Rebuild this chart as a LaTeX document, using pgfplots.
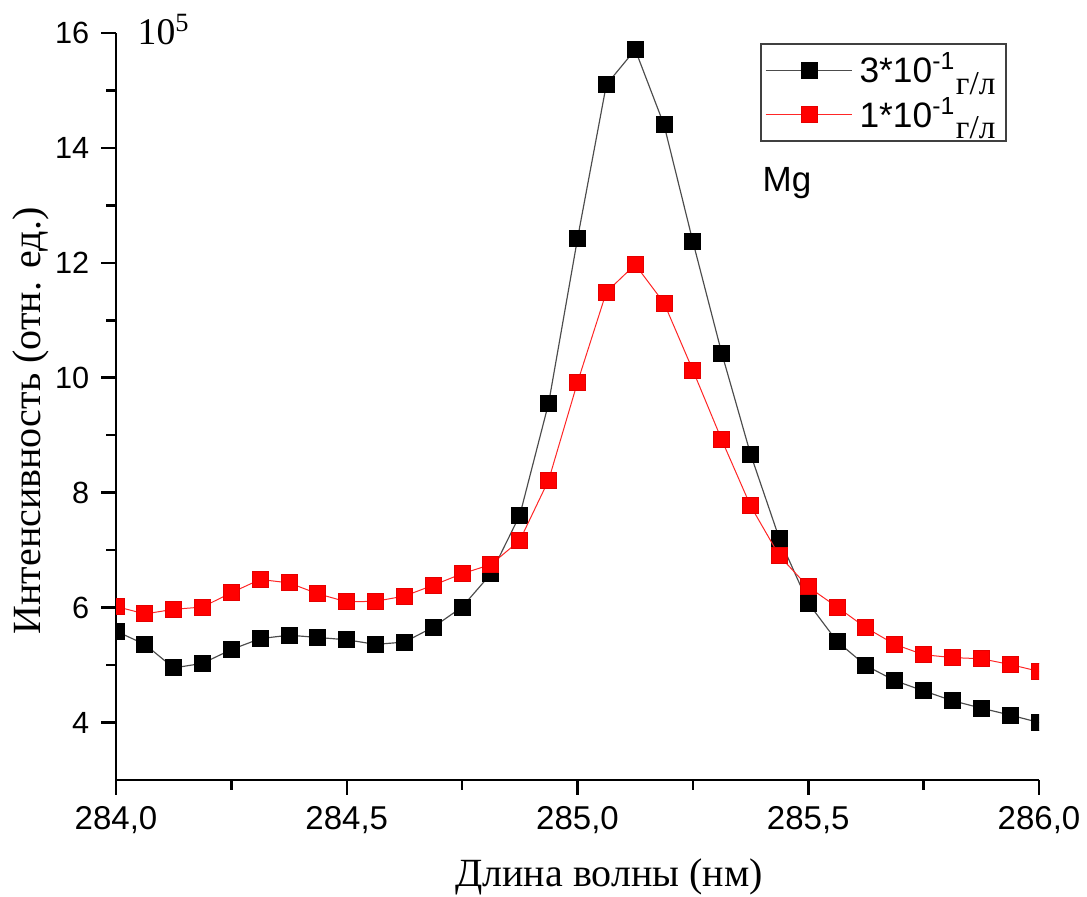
\documentclass[border=0pt]{standalone}
\usepackage{fontspec}
\setmainfont{Liberation Serif}
\setsansfont{Liberation Sans}
\usepackage{pgfplots}
\pgfplotsset{compat=1.18}
\usepackage{pgfplotstable}

% Mg line profile: wavelength (nm), intensity (x 10^5) for 3e-1 g/l and 1e-1 g/l
\pgfplotstableread{
x        high   low
284.0000 5.59   6.02
284.0625 5.36   5.89
284.1250 4.95   5.97
284.1875 5.03   6.01
284.2500 5.27   6.26
284.3125 5.46   6.49
284.3750 5.52   6.43
284.4375 5.48   6.24
284.5000 5.44   6.10
284.5625 5.36   6.11
284.6250 5.40   6.20
284.6875 5.66   6.39
284.7500 6.01   6.59
284.8125 6.59   6.75
284.8750 7.61   7.17
284.9375 9.56   8.22
285.0000 12.42  9.92
285.0625 15.10  11.49
285.1250 15.71  11.97
285.1875 14.40  11.30
285.2500 12.37  10.13
285.3125 10.43  8.92
285.3750 8.67   7.77
285.4375 7.20   6.90
285.5000 6.08   6.36
285.5625 5.41   6.01
285.6250 4.99   5.65
285.6875 4.73   5.36
285.7500 4.55   5.18
285.8125 4.38   5.13
285.8750 4.25   5.11
285.9375 4.13   5.01
286.0000 4.00   4.89
}\mgdata

\begin{document}
\begin{tikzpicture}
\begin{axis}[
  scale only axis,
  width=276.9pt, height=224.1pt,
  at={(0pt,0pt)}, anchor=south west,
  xmin=284, xmax=286, ymin=3, ymax=16,
  axis lines*=left,
  axis line style={-, line width=0.75pt},
  xtick={284,284.5,285,285.5,286},
  ytick={4,6,8,10,12,14,16},
  minor x tick num=1, minor y tick num=1,
  tick align=outside,
  major tick length=4.5pt, minor tick length=3pt,
  every tick/.style={black, line width=0.75pt},
  /pgf/number format/assume math mode=true,
  xticklabel style={font=\sffamily\fontsize{9.9}{12}\selectfont,
    /pgf/number format/fixed, /pgf/number format/fixed zerofill,
    /pgf/number format/precision=1, /pgf/number format/use comma},
  yticklabel style={font=\sffamily\fontsize{9.2}{11}\selectfont},
  clip marker paths=true,
  legend cell align=left,
  legend style={at={(0.698,0.9866)}, anchor=north west,
    draw=black!75, line width=0.5pt,
    font=\sffamily\fontsize{10.6}{11}\selectfont,
    inner xsep=1.2pt, inner ysep=0.6pt, row sep=-1.2pt,
    /tikz/every even column/.append style={column sep=0pt}},
  legend image code/.code={
    \draw[mark repeat=2, mark phase=2] plot coordinates {(0pt,0pt) (13pt,0pt) (26pt,0pt)};},
]
\addplot[black!70, line width=0.35pt, mark=square*, mark size=2.4pt,
  mark options={solid, fill=black, draw=black, line width=0.3pt}]
  table[x=x, y=high] {\mgdata};
\addlegendentry{3*10\textsuperscript{-1}\raisebox{-3.4pt}{\rmfamily\fontsize{10}{11}\selectfont г/л}}
\addplot[red!85, line width=0.3pt, mark=square*, mark size=2.4pt,
  mark options={solid, fill=red, draw=red!90!black, line width=0.3pt}]
  table[x=x, y=low] {\mgdata};
\addlegendentry{1*10\textsuperscript{-1}\raisebox{-3.4pt}{\rmfamily\fontsize{10}{11}\selectfont г/л}}
\end{axis}
% axis texts
\node[anchor=base west, inner sep=0pt, font=\fontsize{11.3}{12}\selectfont] at (6.3pt,220.5pt) {10\textsuperscript{5}};
\node[anchor=base west, inner sep=0pt, font=\sffamily\fontsize{10.5}{12}\selectfont] at (193.8pt,176.4pt) {Mg};
\node[anchor=base, font=\fontsize{12}{14}\selectfont] at (147.9pt,-32.1pt) {Длина волны (нм)};
\node[rotate=90, font=\fontsize{12}{14}\selectfont] at (-25.5pt,107.7pt) {Интенсивность (отн. ед.)};
\pgfresetboundingbox
\useasboundingbox (-34.8pt,-35.1pt) rectangle (291.3pt,234pt);
\end{tikzpicture}
\end{document}
